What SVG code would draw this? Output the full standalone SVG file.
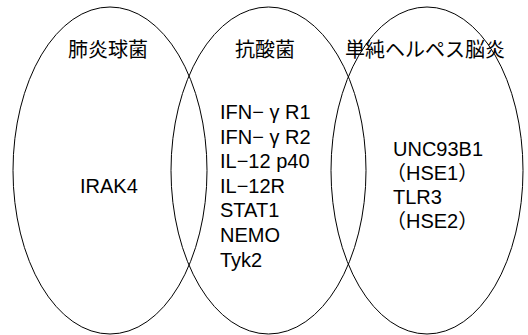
<svg xmlns="http://www.w3.org/2000/svg" width="528" height="335" viewBox="0 0 528 335">
<style>
.ell{fill:none;stroke:#000;stroke-width:1}
.t{font-family:"Liberation Sans","Noto Sans CJK JP",Arial,sans-serif;font-size:20px;fill:#000}
.j{font-family:"Noto Sans CJK JP","Liberation Sans",sans-serif;font-size:20px;fill:#000}
</style>
<rect width="528" height="335" fill="#fff"/>
<g id="pneumococcus">
<ellipse class="ell" cx="110" cy="170.5" rx="97" ry="163.5"/>
<text class="j" x="108" y="57" text-anchor="middle">肺炎球菌</text>
<text class="t" x="80" y="193">IRAK4</text>
</g>
<g id="mycobacteria">
<ellipse class="ell" cx="268.5" cy="170.5" rx="97.5" ry="163.5"/>
<text class="j" x="265" y="57" text-anchor="middle">抗酸菌</text>
<text class="t" x="220" y="119">IFN− γ R1</text>
<text class="t" x="220" y="144">IFN− γ R2</text>
<text class="t" x="220" y="168">IL−12 p40</text>
<text class="t" x="220" y="193">IL−12R</text>
<text class="t" x="220" y="217">STAT1</text>
<text class="t" x="220" y="242">NEMO</text>
<text class="t" x="220" y="267">Tyk2</text>
</g>
<g id="hse">
<ellipse class="ell" cx="427" cy="170.5" rx="96" ry="163.5"/>
<text class="j" x="425" y="57" text-anchor="middle">単純ヘルペス脳炎</text>
<text class="t" x="393" y="156">UNC93B1</text>
<text class="t" x="386" y="180">（HSE1）</text>
<text class="t" x="393" y="204">TLR3</text>
<text class="t" x="386" y="228">（HSE2）</text>
</g>
<g id="connectors"/>
</svg>
